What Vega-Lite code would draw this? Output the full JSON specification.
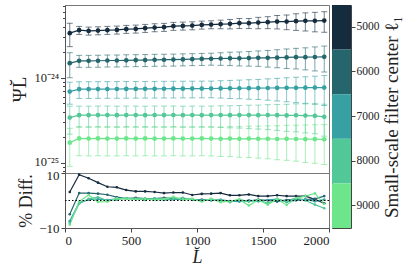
{
"$schema": "https://vega.github.io/schema/vega-lite/v6.json",
"padding": {"left": 10, "top": 4, "right": 3, "bottom": 3},
"config": {
  "font": "Liberation Serif",
  "view": {"stroke": "#777", "strokeWidth": 1},
  "axis": {"labelFont": "Liberation Serif", "titleFont": "Liberation Serif", "labelFontSize": 13, "titleFontSize": 18, "titleFontWeight": "normal", "labelColor": "#222", "titleColor": "#222", "tickColor": "#444", "domainColor": "#555", "grid": false, "tickSize": 4}
},
"datasets": {
"main": [
{"L":36,"c":5000,"v":3.36e-24,"e":1.03e-24,"d":3.1},
{"L":107,"c":5000,"v":3.64e-24,"e":0.393e-24,"d":9.4},
{"L":179,"c":5000,"v":3.57e-24,"e":0.386e-24,"d":8.1},
{"L":250,"c":5000,"v":3.60e-24,"e":0.389e-24,"d":6.5},
{"L":321,"c":5000,"v":3.64e-24,"e":0.393e-24,"d":5.0},
{"L":393,"c":5000,"v":3.67e-24,"e":0.396e-24,"d":4.8},
{"L":464,"c":5000,"v":3.74e-24,"e":0.404e-24,"d":3.8},
{"L":536,"c":5000,"v":3.77e-24,"e":0.407e-24,"d":3.3},
{"L":607,"c":5000,"v":3.84e-24,"e":0.415e-24,"d":3.3},
{"L":679,"c":5000,"v":3.91e-24,"e":0.422e-24,"d":3.1},
{"L":750,"c":5000,"v":3.95e-24,"e":0.427e-24,"d":2.7},
{"L":821,"c":5000,"v":4.06e-24,"e":0.438e-24,"d":2.9},
{"L":893,"c":5000,"v":4.09e-24,"e":0.442e-24,"d":2.9},
{"L":964,"c":5000,"v":4.12e-24,"e":0.445e-24,"d":2.0},
{"L":1036,"c":5000,"v":4.20e-24,"e":0.454e-24,"d":2.4},
{"L":1107,"c":5000,"v":4.24e-24,"e":0.458e-24,"d":2.5},
{"L":1179,"c":5000,"v":4.28e-24,"e":0.496e-24,"d":2.7},
{"L":1250,"c":5000,"v":4.32e-24,"e":0.549e-24,"d":1.9},
{"L":1321,"c":5000,"v":4.40e-24,"e":0.594e-24,"d":1.9},
{"L":1393,"c":5000,"v":4.40e-24,"e":0.594e-24,"d":2.2},
{"L":1464,"c":5000,"v":4.47e-24,"e":0.684e-24,"d":1.6},
{"L":1536,"c":5000,"v":4.52e-24,"e":0.728e-24,"d":1.6},
{"L":1607,"c":5000,"v":4.59e-24,"e":0.826e-24,"d":1.9},
{"L":1679,"c":5000,"v":4.59e-24,"e":0.900e-24,"d":1.6},
{"L":1750,"c":5000,"v":4.65e-24,"e":1.03e-24,"d":1.6},
{"L":1821,"c":5000,"v":4.69e-24,"e":1.13e-24,"d":1.6},
{"L":1893,"c":5000,"v":4.69e-24,"e":1.21e-24,"d":0.4},
{"L":1964,"c":5000,"v":4.72e-24,"e":1.28e-24,"d":-1.0},
{"L":36,"c":6000,"v":1.49e-24,"e":0.486e-24,"d":-5.0},
{"L":107,"c":6000,"v":1.585e-24,"e":0.255e-24,"d":2.7},
{"L":179,"c":6000,"v":1.585e-24,"e":0.255e-24,"d":2.7},
{"L":250,"c":6000,"v":1.59e-24,"e":0.256e-24,"d":2.5},
{"L":321,"c":6000,"v":1.60e-24,"e":0.258e-24,"d":2.1},
{"L":393,"c":6000,"v":1.60e-24,"e":0.258e-24,"d":1.2},
{"L":464,"c":6000,"v":1.61e-24,"e":0.259e-24,"d":0.7},
{"L":536,"c":6000,"v":1.615e-24,"e":0.260e-24,"d":1.0},
{"L":607,"c":6000,"v":1.62e-24,"e":0.261e-24,"d":0.7},
{"L":679,"c":6000,"v":1.63e-24,"e":0.262e-24,"d":0.7},
{"L":750,"c":6000,"v":1.635e-24,"e":0.263e-24,"d":1.0},
{"L":821,"c":6000,"v":1.64e-24,"e":0.264e-24,"d":0.7},
{"L":893,"c":6000,"v":1.65e-24,"e":0.266e-24,"d":0.7},
{"L":964,"c":6000,"v":1.66e-24,"e":0.267e-24,"d":0.3},
{"L":1036,"c":6000,"v":1.67e-24,"e":0.269e-24,"d":0.3},
{"L":1107,"c":6000,"v":1.68e-24,"e":0.270e-24,"d":0.2},
{"L":1179,"c":6000,"v":1.69e-24,"e":0.286e-24,"d":0.0},
{"L":1250,"c":6000,"v":1.70e-24,"e":0.306e-24,"d":-0.3},
{"L":1321,"c":6000,"v":1.70e-24,"e":0.318e-24,"d":0.1},
{"L":1393,"c":6000,"v":1.71e-24,"e":0.335e-24,"d":-0.2},
{"L":1464,"c":6000,"v":1.72e-24,"e":0.354e-24,"d":0.3},
{"L":1536,"c":6000,"v":1.72e-24,"e":0.382e-24,"d":0.0},
{"L":1607,"c":6000,"v":1.73e-24,"e":0.415e-24,"d":-0.4},
{"L":1679,"c":6000,"v":1.74e-24,"e":0.449e-24,"d":0.2},
{"L":1750,"c":6000,"v":1.75e-24,"e":0.476e-24,"d":0.5},
{"L":1821,"c":6000,"v":1.75e-24,"e":0.508e-24,"d":0.3},
{"L":1893,"c":6000,"v":1.76e-24,"e":0.553e-24,"d":0.6},
{"L":1964,"c":6000,"v":1.77e-24,"e":0.598e-24,"d":1.6},
{"L":36,"c":7000,"v":6.9e-25,"e":2.00e-25,"d":-7.5},
{"L":107,"c":7000,"v":7.36e-25,"e":1.634e-25,"d":-0.8},
{"L":179,"c":7000,"v":7.37e-25,"e":1.636e-25,"d":0.3},
{"L":250,"c":7000,"v":7.38e-25,"e":1.638e-25,"d":0.5},
{"L":321,"c":7000,"v":7.39e-25,"e":1.641e-25,"d":0.2},
{"L":393,"c":7000,"v":7.40e-25,"e":1.643e-25,"d":0.6},
{"L":464,"c":7000,"v":7.41e-25,"e":1.645e-25,"d":0.8},
{"L":536,"c":7000,"v":7.42e-25,"e":1.647e-25,"d":0.5},
{"L":607,"c":7000,"v":7.43e-25,"e":1.649e-25,"d":0.4},
{"L":679,"c":7000,"v":7.44e-25,"e":1.652e-25,"d":0.5},
{"L":750,"c":7000,"v":7.45e-25,"e":1.654e-25,"d":0.2},
{"L":821,"c":7000,"v":7.46e-25,"e":1.656e-25,"d":0.4},
{"L":893,"c":7000,"v":7.47e-25,"e":1.658e-25,"d":0.5},
{"L":964,"c":7000,"v":7.48e-25,"e":1.661e-25,"d":0.3},
{"L":1036,"c":7000,"v":7.49e-25,"e":1.663e-25,"d":0.2},
{"L":1107,"c":7000,"v":7.50e-25,"e":1.665e-25,"d":0.0},
{"L":1179,"c":7000,"v":7.52e-25,"e":1.737e-25,"d":0.3},
{"L":1250,"c":7000,"v":7.53e-25,"e":1.807e-25,"d":-0.2},
{"L":1321,"c":7000,"v":7.55e-25,"e":1.865e-25,"d":-0.4},
{"L":1393,"c":7000,"v":7.56e-25,"e":1.950e-25,"d":0.1},
{"L":1464,"c":7000,"v":7.58e-25,"e":2.009e-25,"d":-0.3},
{"L":1536,"c":7000,"v":7.60e-25,"e":2.143e-25,"d":0.2},
{"L":1607,"c":7000,"v":7.61e-25,"e":2.260e-25,"d":0.5},
{"L":1679,"c":7000,"v":7.63e-25,"e":2.396e-25,"d":-0.5},
{"L":1750,"c":7000,"v":7.64e-25,"e":2.529e-25,"d":0.0},
{"L":1821,"c":7000,"v":7.66e-25,"e":2.643e-25,"d":0.4},
{"L":1893,"c":7000,"v":7.68e-25,"e":2.780e-25,"d":-0.3},
{"L":1964,"c":7000,"v":7.69e-25,"e":2.961e-25,"d":0.3},
{"L":36,"c":8000,"v":3.41e-25,"e":1.234e-25,"d":-8.2},
{"L":107,"c":8000,"v":3.64e-25,"e":1.008e-25,"d":-1.2},
{"L":179,"c":8000,"v":3.64e-25,"e":1.008e-25,"d":0.6},
{"L":250,"c":8000,"v":3.65e-25,"e":1.011e-25,"d":1.2},
{"L":321,"c":8000,"v":3.65e-25,"e":1.011e-25,"d":0.0},
{"L":393,"c":8000,"v":3.64e-25,"e":1.008e-25,"d":0.3},
{"L":464,"c":8000,"v":3.65e-25,"e":1.011e-25,"d":0.9},
{"L":536,"c":8000,"v":3.65e-25,"e":1.011e-25,"d":0.6},
{"L":607,"c":8000,"v":3.64e-25,"e":1.008e-25,"d":0.2},
{"L":679,"c":8000,"v":3.65e-25,"e":1.011e-25,"d":0.8},
{"L":750,"c":8000,"v":3.65e-25,"e":1.011e-25,"d":0.4},
{"L":821,"c":8000,"v":3.65e-25,"e":1.011e-25,"d":0.6},
{"L":893,"c":8000,"v":3.64e-25,"e":1.008e-25,"d":1.0},
{"L":964,"c":8000,"v":3.65e-25,"e":1.011e-25,"d":0.2},
{"L":1036,"c":8000,"v":3.64e-25,"e":1.008e-25,"d":0.0},
{"L":1107,"c":8000,"v":3.65e-25,"e":1.011e-25,"d":0.5},
{"L":1179,"c":8000,"v":3.65e-25,"e":1.040e-25,"d":0.1},
{"L":1250,"c":8000,"v":3.64e-25,"e":1.056e-25,"d":-0.6},
{"L":1321,"c":8000,"v":3.65e-25,"e":1.084e-25,"d":0.3},
{"L":1393,"c":8000,"v":3.65e-25,"e":1.121e-25,"d":-0.4},
{"L":1464,"c":8000,"v":3.64e-25,"e":1.143e-25,"d":0.2},
{"L":1536,"c":8000,"v":3.65e-25,"e":1.190e-25,"d":-1.0},
{"L":1607,"c":8000,"v":3.64e-25,"e":1.230e-25,"d":0.6},
{"L":1679,"c":8000,"v":3.62e-25,"e":1.267e-25,"d":-0.3},
{"L":1750,"c":8000,"v":3.63e-25,"e":1.314e-25,"d":0.9},
{"L":1821,"c":8000,"v":3.60e-25,"e":1.346e-25,"d":0.0},
{"L":1893,"c":8000,"v":3.58e-25,"e":1.378e-25,"d":-1.5},
{"L":1964,"c":8000,"v":3.48e-25,"e":1.420e-25,"d":-2.8},
{"L":36,"c":9000,"v":1.73e-25,"e":0.820e-25,"d":-8.8},
{"L":107,"c":9000,"v":1.94e-25,"e":0.726e-25,"d":-0.4},
{"L":179,"c":9000,"v":1.93e-25,"e":0.722e-25,"d":2.0},
{"L":250,"c":9000,"v":1.94e-25,"e":0.726e-25,"d":-0.5},
{"L":321,"c":9000,"v":1.93e-25,"e":0.722e-25,"d":-0.4},
{"L":393,"c":9000,"v":1.93e-25,"e":0.722e-25,"d":0.8},
{"L":464,"c":9000,"v":1.94e-25,"e":0.726e-25,"d":0.6},
{"L":536,"c":9000,"v":1.93e-25,"e":0.722e-25,"d":0.4},
{"L":607,"c":9000,"v":1.94e-25,"e":0.726e-25,"d":0.7},
{"L":679,"c":9000,"v":1.93e-25,"e":0.722e-25,"d":0.2},
{"L":750,"c":9000,"v":1.93e-25,"e":0.722e-25,"d":0.5},
{"L":821,"c":9000,"v":1.94e-25,"e":0.726e-25,"d":1.3},
{"L":893,"c":9000,"v":1.93e-25,"e":0.722e-25,"d":0.3},
{"L":964,"c":9000,"v":1.93e-25,"e":0.722e-25,"d":0.6},
{"L":1036,"c":9000,"v":1.94e-25,"e":0.726e-25,"d":-0.4},
{"L":1107,"c":9000,"v":1.93e-25,"e":0.722e-25,"d":0.6},
{"L":1179,"c":9000,"v":1.92e-25,"e":0.732e-25,"d":-0.6},
{"L":1250,"c":9000,"v":1.93e-25,"e":0.743e-25,"d":-0.2},
{"L":1321,"c":9000,"v":1.92e-25,"e":0.753e-25,"d":0.4},
{"L":1393,"c":9000,"v":1.93e-25,"e":0.774e-25,"d":-1.8},
{"L":1464,"c":9000,"v":1.92e-25,"e":0.783e-25,"d":0.2},
{"L":1536,"c":9000,"v":1.92e-25,"e":0.804e-25,"d":-1.5},
{"L":1607,"c":9000,"v":1.91e-25,"e":0.821e-25,"d":0.5},
{"L":1679,"c":9000,"v":1.92e-25,"e":0.847e-25,"d":-1.6},
{"L":1750,"c":9000,"v":1.91e-25,"e":0.863e-25,"d":0.8},
{"L":1821,"c":9000,"v":1.90e-25,"e":0.887e-25,"d":1.6},
{"L":1893,"c":9000,"v":1.90e-25,"e":0.912e-25,"d":2.6},
{"L":1964,"c":9000,"v":1.89e-25,"e":0.934e-25,"d":-1.2}
],
"cb": [{"c":5000},{"c":6000},{"c":7000},{"c":8000},{"c":9000}]
},
"hconcat": [
 {
  "vconcat": [
   {
    "width": 264, "height": 168,
    "data": {"name": "main"},
    "layer": [
     {
      "mark": {"type": "errorbar", "ticks": {"size": 6}, "thickness": 1, "opacity": 0.6},
      "encoding": {
        "x": {"field": "L", "type": "quantitative", "scale": {"domain": [0, 2000]}, "axis": null},
        "y": {"field": "v", "type": "quantitative", "scale": {"type": "log", "domain": [7.6e-26, 7.2e-24], "nice": false}, "axis": null},
        "yError": {"field": "e"},
        "color": {"field": "c", "type": "ordinal", "scale": {"domain": [5000,6000,7000,8000,9000], "range": ["#152b3e","#25666d","#37a0a3","#52c797","#6de68b"]}, "legend": null}
      }
     },
     {
      "mark": {"type": "line", "strokeWidth": 1.2},
      "encoding": {
        "x": {"field": "L", "type": "quantitative", "scale": {"domain": [0, 2000]}, "axis": null},
        "y": {"field": "v", "type": "quantitative", "axis": {"orient": "left", "values": [8e-26,9e-26,2e-25,3e-25,4e-25,5e-25,6e-25,7e-25,8e-25,9e-25,2e-24,3e-24,4e-24,5e-24,6e-24,7e-24], "labels": false, "tickSize": 2.5, "domain": false, "title": null}},
        "color": {"field": "c", "type": "ordinal", "legend": null}
      }
     },
     {
      "mark": {"type": "point", "filled": true, "size": 22, "opacity": 1},
      "encoding": {
        "x": {"field": "L", "type": "quantitative", "scale": {"domain": [0, 2000]}, "axis": null},
        "y": {"field": "v", "type": "quantitative", "axis": {"orient": "left", "values": [1e-25, 1e-24], "labelExpr": "datum.value < 5e-25 ? '10⁻²⁵' : '10⁻²⁴'", "labelFontSize": 12.5, "labelOffset": {"condition": {"test": "datum.value < 5e-25", "value": -1.5}, "value": 0}, "title": "ΨL̆", "titleFontSize": 19, "tickSize": 4.5}},
        "color": {"field": "c", "type": "ordinal", "legend": null}
      }
     }
    ],
    "resolve": {"axis": {"y": "independent"}}
   },
   {
    "width": 264, "height": 55,
    "data": {"name": "main"},
    "layer": [
     {
      "mark": {"type": "line", "strokeWidth": 1.2},
      "encoding": {
        "x": {"field": "L", "type": "quantitative", "scale": {"domain": [0, 2000]}, "axis": {"values": [0,500,1000,1500,2000], "format": "d", "title": "L̆", "titleFontStyle": "italic", "titlePadding": 1}},
        "y": {"field": "d", "type": "quantitative", "scale": {"domain": [-10, 10]}, "axis": {"values": [-10, 0, 10], "labelExpr": "datum.value < 0 ? '−10' : datum.label", "labelOffset": {"condition": {"test": "datum.value > 5", "value": 2}, "value": 0}, "title": "% Diff.", "titlePadding": 3}},
        "color": {"field": "c", "type": "ordinal", "scale": {"domain": [5000,6000,7000,8000,9000], "range": ["#152b3e","#25666d","#37a0a3","#52c797","#6de68b"]}, "legend": null}
      }
     },
     {
      "mark": {"type": "point", "filled": true, "size": 7, "opacity": 1},
      "encoding": {
        "x": {"field": "L", "type": "quantitative"},
        "y": {"field": "d", "type": "quantitative"},
        "color": {"field": "c", "type": "ordinal", "legend": null}
      }
     },
     {
      "data": {"values": [{"z": 0}]},
      "mark": {"type": "rule", "strokeDash": [1.5, 2], "color": "#000", "strokeWidth": 1.2},
      "encoding": {"y": {"field": "z", "type": "quantitative"}}
     }
    ]
   }
  ],
  "spacing": 0,
  "bounds": "flush"
 },
 {
  "width": 19, "height": 223,
  "data": {"name": "cb"},
  "view": {"stroke": "#444"},
  "mark": {"type": "rect"},
  "encoding": {
    "x": {"datum": 0, "type": "quantitative", "scale": {"domain": [0, 1]}, "axis": null},
    "x2": {"datum": 1},
    "y": {"field": "c", "type": "ordinal", "scale": {"paddingInner": 0, "paddingOuter": 0}, "axis": {"orient": "right", "labelFontSize": 11.5, "labelPadding": 1, "title": "Small-scale filter center ℓ₁", "titleAngle": -90, "titleBaseline": "top", "titleFontSize": 19, "titlePadding": 3, "domain": false}},
    "color": {"field": "c", "type": "ordinal", "scale": {"domain": [5000,6000,7000,8000,9000], "range": ["#152b3e","#25666d","#37a0a3","#52c797","#6de68b"]}, "legend": null}
  }
 }
],
"spacing": 0
}
